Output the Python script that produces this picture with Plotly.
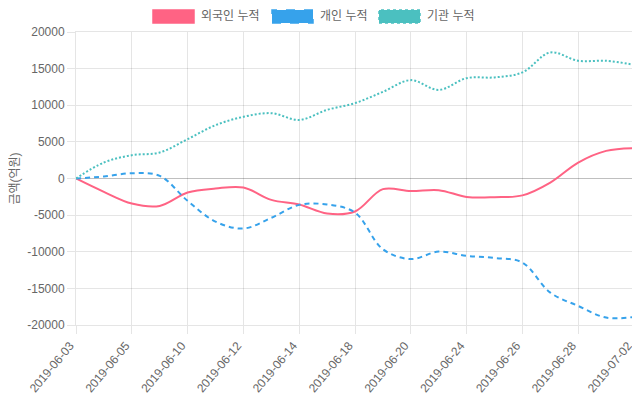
import plotly.graph_objects as go

dates = ["2019-06-03", "2019-06-04", "2019-06-05", "2019-06-07", "2019-06-10",
         "2019-06-11", "2019-06-12", "2019-06-13", "2019-06-14", "2019-06-17",
         "2019-06-18", "2019-06-19", "2019-06-20", "2019-06-21", "2019-06-24",
         "2019-06-25", "2019-06-26", "2019-06-27", "2019-06-28", "2019-07-01",
         "2019-07-02"]
foreign = [0, -1830, -3420, -3740, -1920, -1370, -1230, -2920, -3550, -4780,
           -4500, -1450, -1720, -1590, -2510, -2550, -2300, -550, 2180, 3770, 4140]
individual = [0, 270, 720, 360, -3050, -5880, -6830, -5370, -3600, -3550,
              -4650, -9660, -11000, -9980, -10560, -10840, -11480, -15580,
              -17400, -18990, -18900]
institution = [0, 2180, 3180, 3550, 5370, 7280, 8420, 8920, 8000, 9370,
               10290, 11830, 13430, 12100, 13700, 13800, 14480, 17210, 16070,
               16070, 15520]
series_names = ["외국인 누적", "개인 누적", "기관 누적"]
y_ticks = [20000, 15000, 10000, 5000, 0, -5000, -10000, -15000, -20000]
x_ticks = dates[::2]

colors = ["rgb(255,99,132)", "rgb(54,162,235)", "rgb(75,192,192)"]
dashes = ["solid", "5px,4px", "2px,2px"]
FONT = "Liberation Sans, Arial, Noto Sans CJK KR, sans-serif"

# page body has an 8px margin: figure sits at (8, 8) in the window
OFF = 8
PL, PR, PT, PB = 76, 634, 32, 325  # plot area in window pixels
PW, PH = PR - PL, PB - PT

fig = go.Figure()
for name, vals, c, d in zip(series_names, [foreign, individual, institution], colors, dashes):
    fig.add_trace(go.Scatter(x=dates, y=vals, name=name, mode="lines",
                             line=dict(color=c, width=2, dash=d, shape="spline", smoothing=1.0),
                             showlegend=False))

# manual Chart.js-style legend
legend_boxes = [(153, 194), (272, 313), (379, 420)]
for (x0, x1), name, c, d in zip(legend_boxes, series_names, colors, ["solid", "dash", "dot"]):
    fig.add_shape(type="rect", xref="paper", yref="paper",
                  x0=(x0 - PL) / PW, x1=(x1 - PL) / PW,
                  y0=(PB - 23) / PH, y1=(PB - 10) / PH,
                  fillcolor=c, line=dict(color=c, width=1.5, dash=d))
    fig.add_annotation(xref="paper", yref="paper", x=(x1 + 5 - PL) / PW,
                       y=(PB - 16.5) / PH, text=name, showarrow=False,
                       xanchor="left", yanchor="middle",
                       font=dict(family=FONT, size=12, color="#666"))

fig.update_layout(
    width=640 - OFF, height=400 - OFF,
    margin=dict(l=PL - OFF, r=640 - PR, t=PT - OFF, b=400 - PB, pad=0),
    paper_bgcolor="white", plot_bgcolor="white",
    font=dict(family=FONT, size=12, color="#666"),
    showlegend=False,
)
fig.update_xaxes(type="category", range=[0, len(dates) - 1], automargin=False,
                 tickmode="array", tickvals=x_ticks, ticktext=x_ticks,
                 tickangle=-50, ticklabelshift=-6, showgrid=True, gridcolor="rgba(0,0,0,0.1)",
                 ticks="outside", ticklen=8, tickcolor="rgba(0,0,0,0.1)",
                 showline=True, linecolor="rgba(0,0,0,0.1)", mirror=True,
                 zeroline=False, tickfont=dict(size=12, color="#666"))
fig.update_yaxes(range=[-20000, 20000], automargin=False,
                 tickmode="array", tickvals=y_ticks,
                 ticktext=[str(v) for v in y_ticks],
                 showgrid=True, gridcolor="rgba(0,0,0,0.1)",
                 ticks="outside", ticklen=8, tickcolor="rgba(0,0,0,0.1)",
                 showline=True, linecolor="rgba(0,0,0,0.1)", mirror=True,
                 zeroline=True, zerolinecolor="rgba(0,0,0,0.25)", zerolinewidth=1,
                 title=dict(text="금액(억원)", standoff=6, font=dict(size=12, color="#666")),
                 tickfont=dict(size=12, color="#666"))

fig.write_html("out.html")
